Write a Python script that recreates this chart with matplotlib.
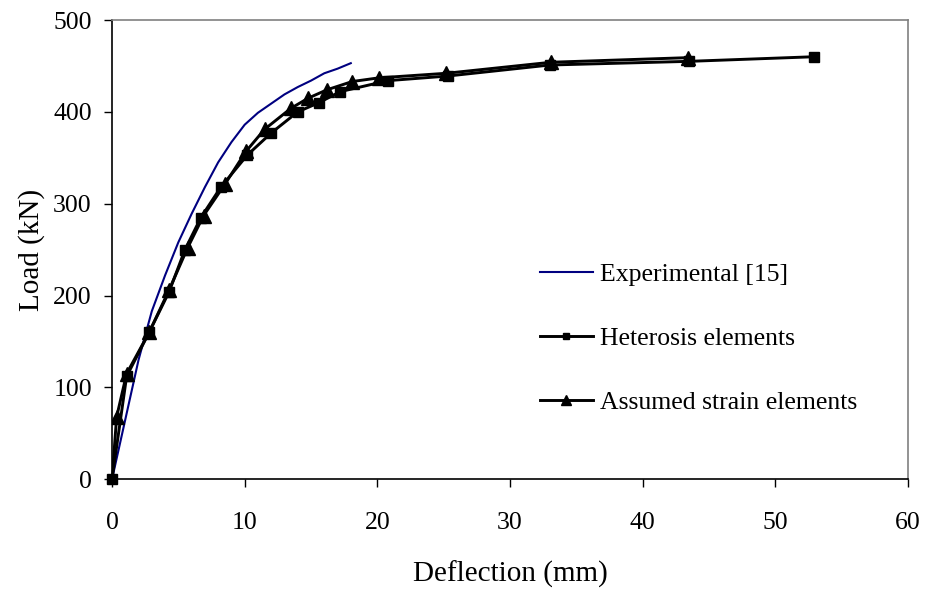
import matplotlib
matplotlib.use('Agg')
import matplotlib.pyplot as plt

# experimental curve [15]
exp_x = [0, 1, 2, 3, 4, 5, 6, 7, 8, 9, 10, 11, 12, 13, 14, 15, 16, 17, 18]
exp_y = [0, 65, 130, 183, 222, 258, 289, 318, 345, 367, 386, 399, 409, 419, 427, 434, 442, 447, 453]

# heterosis elements
het_x = [0, 1.1, 2.8, 4.3, 5.5, 6.7, 8.2, 10.2, 12.0, 14.0, 15.6, 17.2, 20.8, 25.3, 33.0, 43.5, 52.9]
het_y = [0, 112, 160, 204, 250, 285, 318, 353, 377, 400, 410, 422, 434, 439, 451, 455, 460]

# assumed strain elements
asm_x = [0, 0.35, 1.1, 2.8, 4.3, 5.7, 6.9, 8.5, 10.1, 11.5, 13.5, 14.8, 16.2, 18.1, 20.1, 25.2, 33.1, 43.4]
asm_y = [0, 68, 115, 160, 206, 252, 287, 321, 357, 381, 404, 415, 424, 433, 437, 442, 454, 459]

plt.rcParams['font.family'] = ['Liberation Serif', 'DejaVu Serif']

fig = plt.figure(figsize=(9.28, 5.90), dpi=100)
ax = fig.add_axes([0.1207, 0.1876, 0.8577, 0.7785])

ax.plot(exp_x, exp_y, '-', color='#000080', lw=1.5, label='Experimental [15]')
ax.plot(asm_x, asm_y, '-^', color='black', lw=2.1, ms=10, zorder=3,
        label='Assumed strain elements')
ax.plot(het_x, het_y, '-s', color='black', lw=2.1, ms=7, clip_on=False, zorder=4,
        label='Heterosis elements')

ax.set_xlim(0, 60)
ax.set_ylim(0, 500)
ax.set_xticks(range(0, 61, 10))
ax.set_yticks(range(0, 501, 100))
ax.tick_params(labelsize=18.5, length=5.5, width=1.0, direction='out')
ax.tick_params(axis='x', pad=18)
ax.tick_params(axis='y', pad=9)
ax.set_xlabel('Deflection (mm)', fontsize=21, labelpad=19)
ax.set_ylabel('Load (kN)', fontsize=21, labelpad=6)

for s in ['left', 'bottom']:
    ax.spines[s].set_linewidth(1.2)
for s in ['top', 'right']:
    ax.spines[s].set_color('gray')
    ax.spines[s].set_linewidth(1.2)

# keep legend order: experimental, heterosis, assumed strain
h, l = ax.get_legend_handles_labels()
order = [0, 2, 1]
ax.legend([h[i] for i in order], [l[i] for i in order],
          loc='center left', bbox_to_anchor=(0.5377, 0.307), frameon=False,
          fontsize=18.5, handlelength=2.05, labelspacing=1.6, numpoints=1,
          handletextpad=0.27, borderaxespad=0, borderpad=0, markerscale=0.7)

fig.savefig('out.png', dpi=100)
